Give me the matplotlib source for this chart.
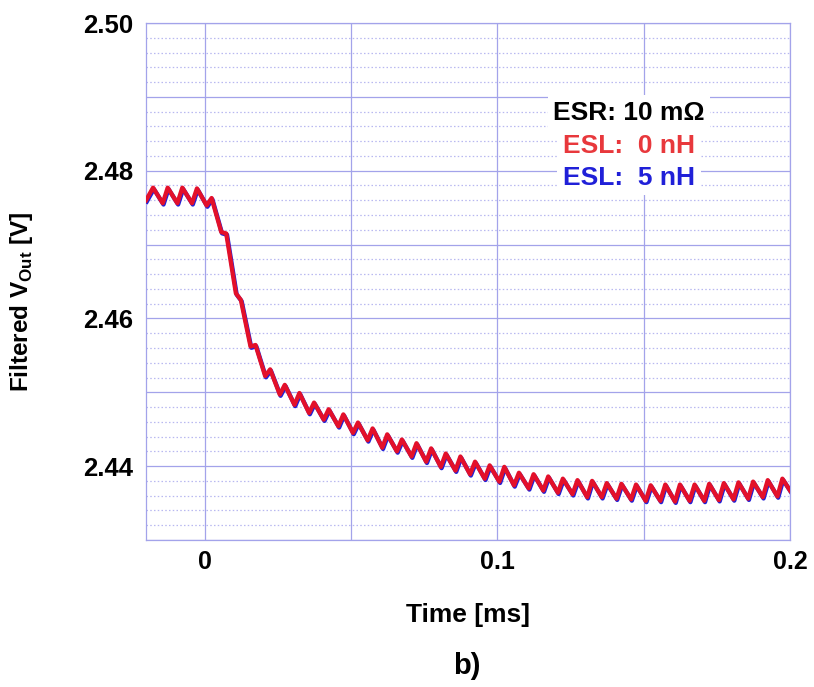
import numpy as np
import matplotlib
matplotlib.use('Agg')
import matplotlib.pyplot as plt
import matplotlib.transforms as mtransforms

plt.rcParams['font.family'] = ['Liberation Sans', 'DejaVu Sans']
plt.rcParams['font.weight'] = 'bold'
plt.rcParams['mathtext.fontset'] = 'custom'
plt.rcParams['mathtext.rm'] = 'Liberation Sans:bold'
plt.rcParams['mathtext.bf'] = 'Liberation Sans:bold'

# Filtered output voltage, sampled at the ripple peaks and troughs
t_start, v_start = -0.02, 2.4760       # ms, V
t_end, v_end = 0.2, 2.4367
first_peak = -0.0176                   # ms
ripple_period = 0.005                  # ms
fall_time = 0.0033                     # peak -> following trough, ms

peak_v = [2.4777, 2.4777, 2.4777, 2.4776, 2.4763, 2.4715, 2.4625, 2.4564,
          2.4531, 2.4510, 2.4499, 2.4486, 2.4477, 2.4470, 2.4459, 2.4451,
          2.4443, 2.4436, 2.4431, 2.4424, 2.4417, 2.4413, 2.4406, 2.4401,
          2.4399, 2.4391, 2.4389, 2.4386, 2.4383, 2.4381, 2.4380, 2.4377,
          2.4376, 2.4375, 2.4374, 2.4375, 2.4375, 2.4375, 2.4376, 2.4377,
          2.4378, 2.4379, 2.4381, 2.4383]
trough_v = [2.4756, 2.4756, 2.4756, 2.4753, 2.4717, 2.4634, 2.4562, 2.4522,
            2.4497, 2.4483, 2.4472, 2.4463, 2.4454, 2.4445, 2.4435, 2.4425,
            2.4420, 2.4413, 2.4406, 2.4399, 2.4394, 2.4389, 2.4383, 2.4379,
            2.4374, 2.4370, 2.4367, 2.4364, 2.4362, 2.4358, 2.4358, 2.4356,
            2.4355, 2.4353, 2.4353, 2.4352, 2.4353, 2.4353, 2.4354, 2.4355,
            2.4356, 2.4358, 2.4359]

x_ticks = [0.0, 0.05, 0.1, 0.15, 0.2]
x_labels = ['0', '', '0.1', '', '0.2']
y_ticks = [2.43, 2.44, 2.45, 2.46, 2.47, 2.48, 2.49, 2.50]
y_labels = ['', '2.44', '', '2.46', '', '2.48', '', '2.50']

peak_t = first_peak + ripple_period * np.arange(len(peak_v))
trough_t = peak_t[:len(trough_v)] + fall_time

time = [t_start]
volt = [v_start]
for k in range(len(peak_v)):
    time.append(peak_t[k])
    volt.append(peak_v[k])
    if k < len(trough_v):
        time.append(trough_t[k])
        volt.append(trough_v[k])
time.append(t_end)
volt.append(v_end)

grid_col = '#a3a3ea'
red = '#e3102a'
blue = '#2020d8'

fig = plt.figure(figsize=(8.14, 6.87), dpi=100)
ax = fig.add_axes([0.1794, 0.2140, 0.7911, 0.7525])

# the 5 nH trace sits on top of the 0 nH one; nudge it a pixel so it shows
shifted = mtransforms.offset_copy(ax.transData, fig=fig, x=0.8, y=-1.3, units='dots')
ax.plot(time, volt, color=blue, lw=3.1, transform=shifted,
        solid_joinstyle='round', zorder=3)
ax.plot(time, volt, color=red, lw=3.1, solid_joinstyle='round', zorder=4)

ax.set_xlim(-0.02, 0.2)
ax.set_ylim(2.43, 2.50)
ax.set_xticks(x_ticks)
ax.set_xticklabels(x_labels)
ax.set_yticks(y_ticks)
ax.set_yticklabels(y_labels)
ax.set_yticks(np.arange(2.432, 2.4995, 0.002), minor=True)

ax.set_axisbelow(True)
ax.grid(True, which='major', color=grid_col, lw=0.9)
ax.grid(True, which='minor', axis='y', color='#b8b8f0', lw=0.9, ls=(0, (1.2, 1.8)))
ax.tick_params(which='both', length=0)
ax.tick_params(axis='y', pad=9.5, labelsize=18.5)
ax.tick_params(axis='x', pad=7, labelsize=18)
for s in ax.spines.values():
    s.set_color(grid_col)
    s.set_linewidth(0.9)

ax.set_ylabel(r'Filtered V$_{\mathbf{Out}}$ [V]', fontsize=17.5, fontweight='bold')
ax.yaxis.set_label_coords(-0.172, 0.46)
ax.set_xlabel('Time [ms]', fontsize=19, fontweight='bold')
ax.xaxis.set_label_coords(0.5, -0.122)
fig.text(0.574, 1 - 666 / 687, 'b)', ha='center', va='center', fontsize=21,
         fontweight='bold')

box = dict(facecolor='white', edgecolor='none', pad=4)
ax.text(0.75, 0.826, 'ESR: 10 m\u03a9', transform=ax.transAxes, ha='center',
        va='center', fontsize=19, fontweight='bold', color='black', bbox=box, zorder=5)
ax.text(0.75, 0.763, 'ESL:  0 nH', transform=ax.transAxes, ha='center',
        va='center', fontsize=19, fontweight='bold', color='#e8383c', bbox=box, zorder=5)
ax.text(0.75, 0.701, 'ESL:  5 nH', transform=ax.transAxes, ha='center',
        va='center', fontsize=19, fontweight='bold', color=blue, bbox=box, zorder=5)

fig.savefig('out.png', dpi=100)
